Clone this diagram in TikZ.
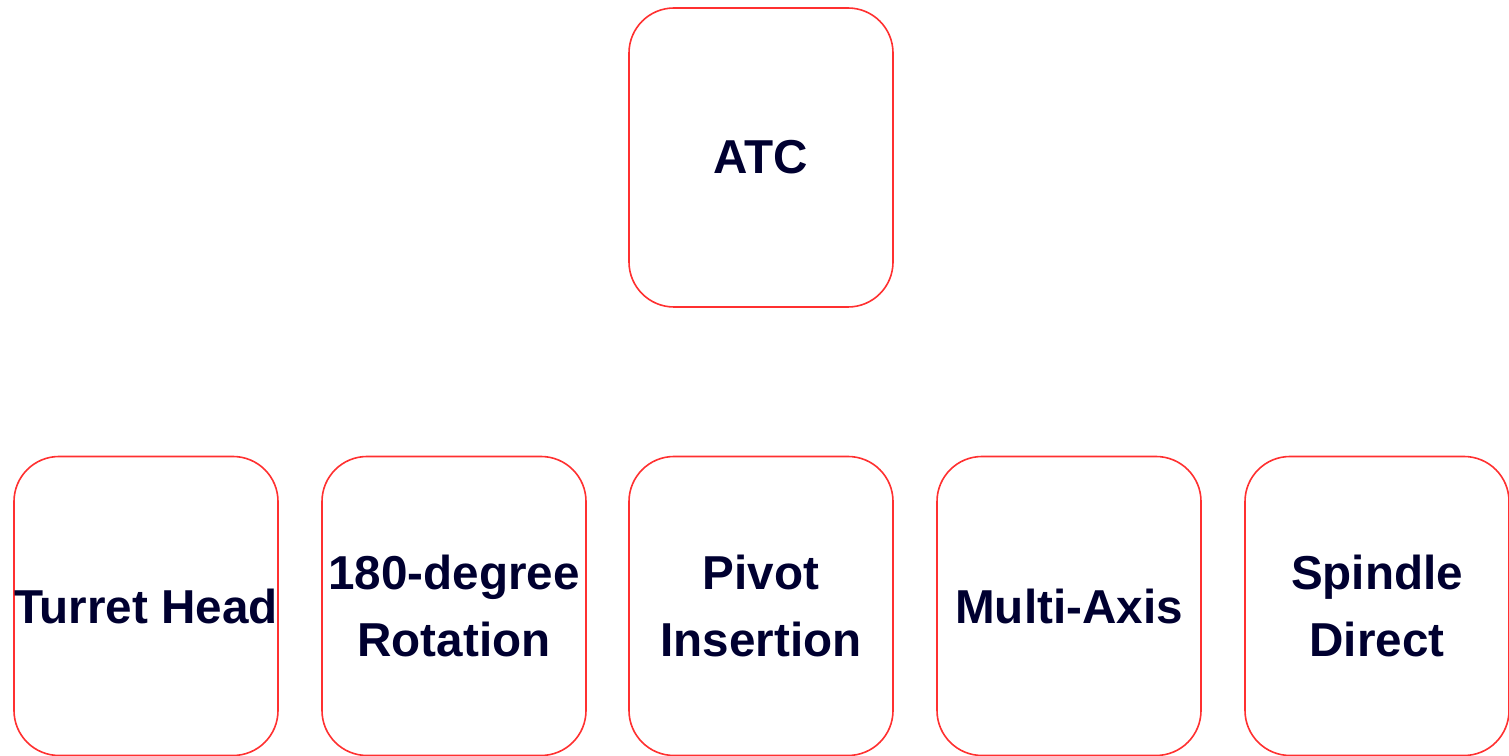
\documentclass[tikz,border=0pt]{standalone}
\usepackage{fontspec}
\setmainfont{Liberation Sans}
\definecolor{boxred}{HTML}{FF3030}
\definecolor{navy}{HTML}{000030}
\tikzset{
  boxnode/.style={draw=boxred, line width=1.6pt, rounded corners=45pt,
    minimum width=264pt, minimum height=299pt, inner sep=0pt,
    align=center, text=navy,
    font=\fontsize{47.6pt}{67pt}\selectfont\bfseries}
}
\begin{document}
\begin{tikzpicture}[x=1pt,y=1pt]
\useasboundingbox (0,0) rectangle (1509,755);
\node[boxnode] (atc) at (761,597.5) {ATC};
\node[boxnode] (turret) at (146,149) {Turret Head};
\node[boxnode] (rot) at (454,149) {180-degree\\Rotation};
\node[boxnode] (pivot) at (761,149) {Pivot\\Insertion};
\node[boxnode] (multi) at (1069,149) {Multi-Axis};
\node[boxnode] (spindle) at (1377,149) {Spindle\\Direct};
\end{tikzpicture}
\end{document}
